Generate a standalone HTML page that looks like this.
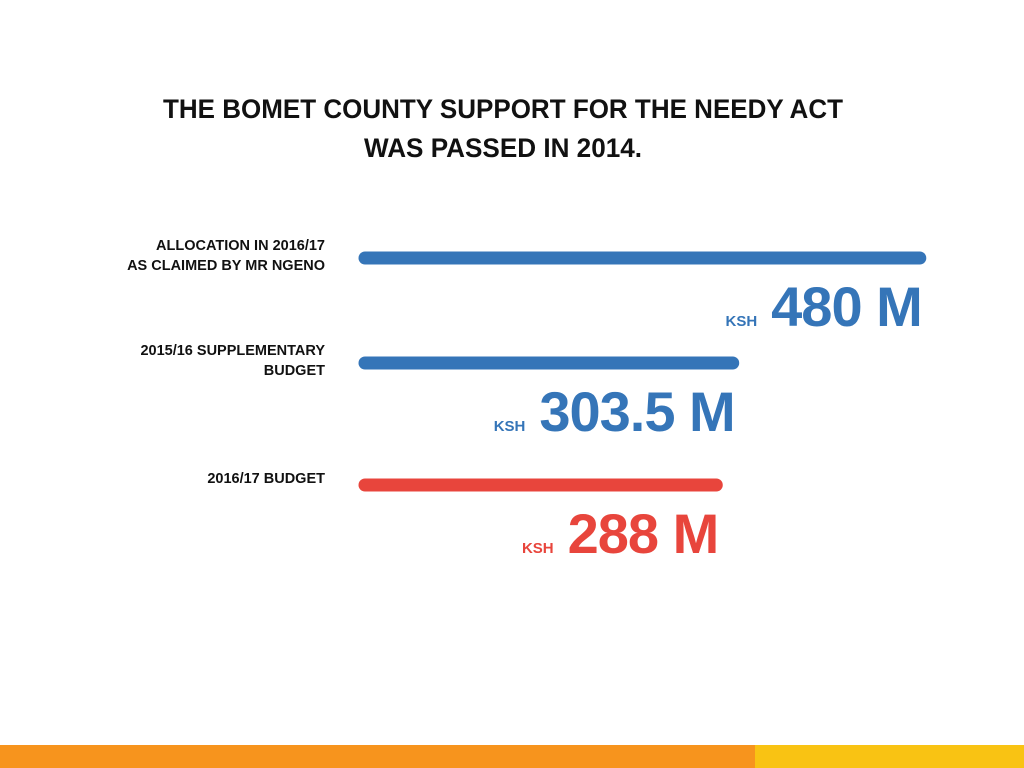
<!DOCTYPE html>
<html><head><meta charset="utf-8"><style>
body{margin:0;background:#fff;width:1024px;height:768px;overflow:hidden;font-family:"Liberation Sans",sans-serif}
</style></head><body>
<svg id="c" width="1024" height="768" style="position:absolute;left:0;top:0">
<text x="503" y="118" text-anchor="middle" font-size="27" font-weight="bold" fill="#111" textLength="680" lengthAdjust="spacingAndGlyphs">THE BOMET COUNTY SUPPORT FOR THE NEEDY ACT</text>
<text x="503" y="157" text-anchor="middle" font-size="27" font-weight="bold" fill="#111" textLength="278" lengthAdjust="spacingAndGlyphs">WAS PASSED IN 2014.</text>
<rect x="0" y="745" width="755" height="23" fill="#f7941d"/>
<rect x="755" y="745" width="269" height="23" fill="#f9c313"/>
</svg>
<script>
const categories=[["ALLOCATION IN 2016/17","AS CLAIMED BY MR NGENO"],["2015/16 SUPPLEMENTARY","BUDGET"],["2016/17 BUDGET"]];
const values=[480,303.5,288];
const valueLabels=["480 M","303.5 M","288 M"];
const colors=["#3575b8","#3575b8","#e8453c"];
const svg=document.getElementById('c');
const NS="http://www.w3.org/2000/svg";
const x0=358;
function xScale(v){return x0+60+v*1.06;}
const rowY=[258,363,485];
function mk(t,a){const e=document.createElementNS(NS,t);for(const k in a)e.setAttribute(k,a[k]);svg.appendChild(e);return e;}
values.forEach((v,i)=>{
  const y=rowY[i];
  const line=mk('line',{x1:x0+7,y1:y,x2:xScale(v)-7,y2:y,stroke:colors[i],'stroke-width':13,'stroke-linecap':'round'});
  
  
  const lab=categories[i];
  lab.forEach((s,j)=>{
    const t=mk('text',{x:325,y:y-8+j*20+(lab.length===1?6:0),'text-anchor':'end','font-size':14.5,'font-weight':'bold',fill:'#111'});
    t.textContent=s;
    
    
  });
  const vt=mk('text',{x:xScale(v)-5,y:y+68,'text-anchor':'end','font-size':56,'font-weight':'bold',fill:colors[i],'letter-spacing':'-1'});
  vt.textContent=valueLabels[i];
  
  
  const w=vt.getComputedTextLength();
  const k=mk('text',{x:xScale(v)-5-w-14,y:y+68,'text-anchor':'end','font-size':15,'font-weight':'bold',fill:colors[i]});
  k.textContent="KSH";
  
  
});
</script>
</body></html>
